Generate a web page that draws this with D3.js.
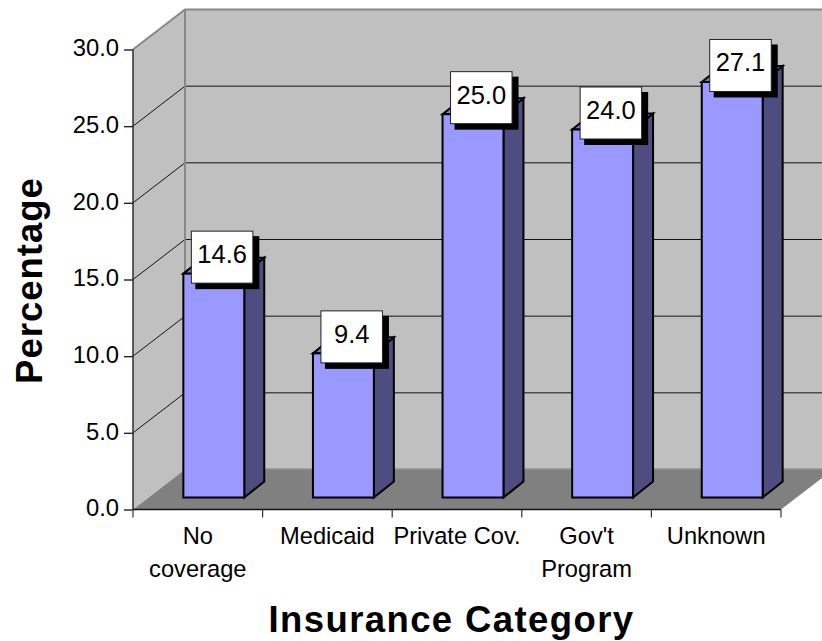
<!DOCTYPE html>
<html><head><meta charset="utf-8">
<script src="https://cdn.jsdelivr.net/npm/d3@7"></script>
<style>html,body{margin:0;padding:0;background:#fff}svg{display:block}text{font-family:"Liberation Sans",Arial,sans-serif;fill:#000}</style>
</head><body><svg id="c" width="822" height="641"></svg>
<script>
const categories = ["No coverage","Medicaid","Private Cov.","Gov't Program","Unknown"];
const categoryLines = [["No","coverage"],["Medicaid"],["Private Cov."],["Gov't","Program"],["Unknown"]];
const values = [14.6,9.4,25.0,24.0,27.1];
const yTicks = [0,5,10,15,20,25,30];

const svg = d3.select("#c");
const plotLeft=133, plotRight=781, base=509.5, plotTop=49.5;
const depthX=52, depthY=-40;      // wall depth
const barDX=20, barDY=-16;        // bar depth
const barInsetX=16, barInsetY=-12;
const y = d3.scaleLinear().domain([0,30]).range([base,plotTop]);
const x = d3.scaleBand().domain(categories).range([plotLeft,plotRight]).paddingInner(0.53).paddingOuter(0.265);
const xOuter = d3.scaleBand().domain(categories).range([plotLeft,plotRight]);
const poly = pts => pts.map(p=>p.join(",")).join(" ");

// back wall, left wall, floor
svg.append("polygon").attr("fill","#c0c0c0")
  .attr("points",poly([[plotLeft+depthX,y(30)+depthY],[plotRight+depthX,y(30)+depthY],[plotRight+depthX,y(0)+depthY],[plotLeft+depthX,y(0)+depthY]]));
svg.append("polygon").attr("fill","#c0c0c0")
  .attr("points",poly([[plotLeft,y(30)],[plotLeft+depthX,y(30)+depthY],[plotLeft+depthX,y(0)+depthY],[plotLeft,y(0)]]));
svg.append("polygon").attr("fill","#808080")
  .attr("points",poly([[plotLeft,y(0)],[plotRight,y(0)],[plotRight+depthX,y(0)+depthY],[plotLeft+depthX,y(0)+depthY]]));

// gridlines
yTicks.filter(t=>t>0&&t<30).forEach(t=>{
  svg.append("path").attr("fill","none").attr("stroke","#111").attr("stroke-width",1)
    .attr("d",`M${plotLeft},${y(t)}L${plotLeft+depthX},${y(t)+depthY}L${plotRight+depthX},${y(t)+depthY}`);
});
// wall edges
svg.append("path").attr("fill","none").attr("stroke","#888").attr("stroke-width",2)
  .attr("d",`M${plotLeft},${y(30)}L${plotLeft+depthX},${y(30)+depthY}L${plotRight+depthX},${y(30)+depthY}M${plotLeft+depthX},${y(30)+depthY}L${plotLeft+depthX},${y(0)+depthY}L${plotRight+depthX},${y(0)+depthY}`);

// axes
const yAxis = d3.axisLeft(y).tickValues(yTicks).tickFormat(d3.format(".1f")).tickSize(9).tickPadding(5);
const ga = svg.append("g").attr("transform",`translate(${plotLeft},0)`).call(yAxis);
ga.selectAll("path,line").attr("stroke","#222").attr("stroke-width",1.4);
ga.select(".domain").attr("d",`M0,${y(30)}V${y(0)}`);
ga.selectAll("text").attr("font-size",23.8).attr("dy","0.27em");
const bottom = svg.append("g");
bottom.append("line").attr("x1",plotLeft).attr("x2",plotRight).attr("y1",base).attr("y2",base).attr("stroke","#111").attr("stroke-width",1.6);
d3.range(categories.length+1).forEach(i=>{
  const tx = i<categories.length ? xOuter(categories[i]) : plotRight;
  bottom.append("line").attr("x1",tx).attr("x2",tx).attr("y1",base).attr("y2",base+8).attr("stroke","#333").attr("stroke-width",1.2);
});
categoryLines.forEach((ls,i)=>{
  const cx = xOuter(categories[i])+xOuter.bandwidth()/2;
  ls.forEach((l,j)=>bottom.append("text").attr("x",cx).attr("y",544+j*33).attr("text-anchor","middle").attr("font-size",23.7).text(l));
});

// bars
const bars = svg.append("g").selectAll("g").data(categories).join("g");
const bx = c=>x(c)+barInsetX;
const h0 = d3.scaleLinear().domain([0,30]).range([y(0)+barInsetY,y(30)+barInsetY]);
bars.each(function(c,i){
  const g=d3.select(this), a=bx(c), b=a+x.bandwidth(), t=h0(values[i]), z=h0(0);
  g.append("polygon").attr("fill","#4d4d80").attr("stroke","#000").attr("stroke-width",2)
    .attr("points",poly([[b,t],[b+barDX,t+barDY],[b+barDX,z+barDY],[b,z]]));
  g.append("polygon").attr("fill","#7a7acc").attr("stroke","#000").attr("stroke-width",2)
    .attr("points",poly([[a,t],[a+barDX,t+barDY],[b+barDX,t+barDY],[b,t]]));
  g.append("rect").attr("x",a).attr("y",t).attr("width",b-a).attr("height",z-t)
    .attr("fill","#9999ff").attr("stroke","#000").attr("stroke-width",2);
});
// data labels
bars.each(function(c,i){
  const g=d3.select(this), a=bx(c), t=h0(values[i]);
  const lx=a+8, ly=t-42.5, lw=61.5, lh=52;
  g.append("rect").attr("x",lx+4).attr("y",ly+5).attr("width",lw+2.5).attr("height",lh+1).attr("fill","#000");
  g.append("rect").attr("x",lx).attr("y",ly).attr("width",lw).attr("height",lh).attr("fill","#fff").attr("stroke","#222").attr("stroke-width",1);
  g.append("text").attr("x",lx+lw/2).attr("y",ly+32).attr("text-anchor","middle").attr("font-size",25.5).text(d3.format(".1f")(values[i]));
});

// titles
svg.append("text").attr("x",451.5).attr("y",632).attr("text-anchor","middle").attr("font-size",36.5).attr("letter-spacing",1.4).attr("font-weight","bold").text("Insurance Category");
svg.append("text").attr("transform","translate(42,280.5) rotate(-90)").attr("text-anchor","middle").attr("font-size",36.5).attr("letter-spacing",1).attr("font-weight","bold").text("Percentage");
</script></body></html>
